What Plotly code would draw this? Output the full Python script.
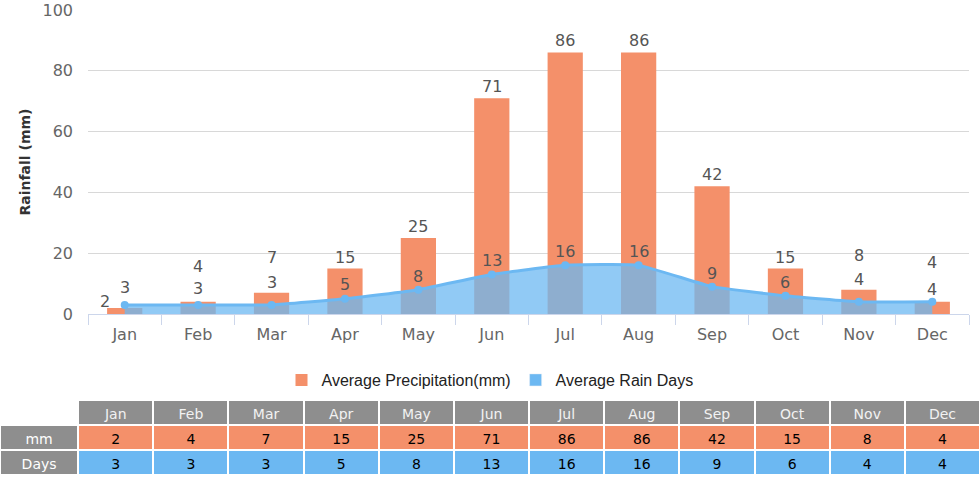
import plotly.graph_objects as go

months = ["Jan", "Feb", "Mar", "Apr", "May", "Jun", "Jul", "Aug", "Sep", "Oct", "Nov", "Dec"]
precip_mm = [2, 4, 7, 15, 25, 71, 86, 86, 42, 15, 8, 4]
rain_days = [3, 3, 3, 5, 8, 13, 16, 16, 9, 6, 4, 4]
y_ticks = [0, 20, 40, 60, 80, 100]

# label placement style (pixel offsets to avoid overlaps, as in original)
precip_label_dy = [6, 35, 35, 11, 11, 12, 12, 12, 12, 11, 34, 39]
precip_label_dx = [-20, 0, 0, 0, 0, 0, 0, 0, 0, 0, 0, 0]
days_label_dy = [17, 16, 22, 14, 13, 14, 14, 14, 13, 13, 22, 12]

ORANGE = "#F4906A"
BLUE = "#6CB8F2"
GRAY = "#8E8E8E"
W, H = 980, 489

fig = go.Figure()
fig.add_trace(go.Bar(
    x=months, y=precip_mm, name="Average Precipitation(mm)",
    marker=dict(color=ORANGE, line=dict(width=0)), width=0.48,
    showlegend=True, hoverinfo="skip"))
fig.add_trace(go.Scatter(
    x=months, y=rain_days, name="Average Rain Days", mode="lines+markers",
    line=dict(color=BLUE, width=3, shape="spline", smoothing=0.4),
    marker=dict(color=BLUE, size=8), fill="tozeroy",
    fillcolor="rgba(108,184,242,0.75)", showlegend=False, hoverinfo="skip"))
# legend proxy for the rain days series
fig.add_trace(go.Bar(x=[None], y=[None], name="Average Rain Days",
                     marker=dict(color=BLUE), showlegend=True))

lab_font = dict(family="DejaVu Sans", size=16, color="#555555")
ann = []
for i, m in enumerate(months):
    ann.append(dict(x=m, y=precip_mm[i], text=str(precip_mm[i]), showarrow=False,
                    yshift=precip_label_dy[i], xshift=precip_label_dx[i], yanchor="middle",
                    font=lab_font))
    ann.append(dict(x=m, y=rain_days[i], text=str(rain_days[i]), showarrow=False,
                    yshift=days_label_dy[i], yanchor="middle", font=lab_font))

# table
hdr_vals = [""] + months
hdr_fill = ["white"] + [GRAY] * 12
cell_vals = [["mm", "Days"]] + [[str(precip_mm[i]), str(rain_days[i])] for i in range(12)]
cell_fill = [[GRAY, GRAY]] + [[ORANGE, BLUE] for _ in range(12)]
cell_font_col = [["white", "white"]] + [["black", "black"] for _ in range(12)]
fig.add_trace(go.Table(
    domain=dict(x=[0, 1], y=[1 - 478 / H, 1 - 400 / H]),
    columnwidth=[78] + [75] * 12,
    header=dict(values=hdr_vals, fill_color=hdr_fill, line=dict(color="white", width=2),
                align="center", height=25,
                font=dict(family="DejaVu Sans", size=14, color="#F2F2F2")),
    cells=dict(values=cell_vals, fill_color=cell_fill, line=dict(color="white", width=2),
               align="center", height=25,
               font=dict(family="DejaVu Sans", size=14, color=cell_font_col))))

fig.update_layout(
    width=W, height=H, margin=dict(l=0, r=0, t=0, b=0),
    paper_bgcolor="white", plot_bgcolor="white", barmode="overlay",
    annotations=ann,
    legend=dict(orientation="h", x=0.5, xanchor="center", y=1 - 380 / H, yanchor="middle",
                font=dict(family="Liberation Sans", size=16, color="#222222"),
                itemclick=False),
    xaxis=dict(domain=[88 / W, 969 / W], showline=True, linecolor="#CCD6EB", linewidth=1,
               ticks="outside", tickson="boundaries", ticklen=10, tickcolor="#CCD6EB",
               tickfont=dict(family="DejaVu Sans", size=16, color="#666666"),
               ticklabelstandoff=6, showgrid=False, automargin=False),
    yaxis=dict(domain=[1 - 314 / H, 1 - 10 / H], range=[0, 100], tickvals=y_ticks,
               showgrid=True, gridcolor="#D8D8D8", zeroline=False,
               tickfont=dict(family="DejaVu Sans", size=16, color="#666666"),
               ticklabelstandoff=14, automargin=False,
               title=dict(text="<b>Rainfall (mm)</b>", standoff=8,
                          font=dict(family="DejaVu Sans", size=14, color="#333333"))),
)
fig.write_html("out.html", post_script="document.body.style.margin='0';",
               config={"displayModeBar": False})
